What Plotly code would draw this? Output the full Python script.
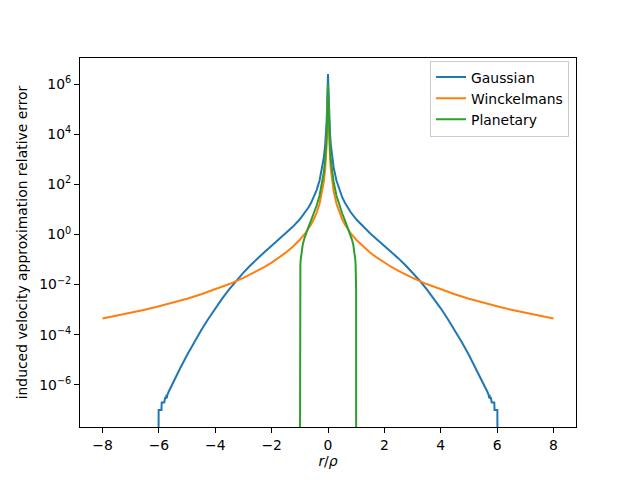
import plotly.graph_objects as go

# ---- data ----
x_ticks = [-8, -6, -4, -2, 0, 2, 4, 6, 8]
x_tick_labels = ["\u22128", "\u22126", "\u22124", "\u22122", "0", "2", "4", "6", "8"]
y_ticks = [1e-6, 1e-4, 1e-2, 1e0, 1e2, 1e4, 1e6]
y_tick_labels = ["10<sup>\u22126</sup>", "10<sup>\u22124</sup>", "10<sup>\u22122</sup>",
                 "10<sup>0</sup>", "10<sup>2</sup>", "10<sup>4</sup>", "10<sup>6</sup>"]

ZERO = 1e-12  # stands for an exact zero (drawn below the visible axis range)

gauss_x = [-6.02, -6.01, -5.91, -5.9, -5.81, -5.8, -5.79, -5.78, -5.75, -5.73, -5.72, -5.7,
           -5.65, -5.6, -5.5, -5.25, -5.0, -4.75, -4.5, -4.25, -4.0, -3.75, -3.5, -3.25,
           -3.0, -2.75, -2.5, -2.25, -2.0, -1.75, -1.5, -1.25, -1.0, -0.8, -0.7, -0.6,
           -0.5, -0.4, -0.3, -0.2, -0.15, -0.1, -0.075, -0.05, -0.03, -0.02,
           0.0,
           0.02, 0.03, 0.05, 0.075, 0.1, 0.15, 0.2, 0.3, 0.4, 0.5, 0.6, 0.7, 0.8, 1.0,
           1.25, 1.5, 1.75, 2.0, 2.25, 2.5, 2.75, 3.0, 3.25, 3.5, 3.75, 4.0, 4.25, 4.5,
           4.75, 5.0, 5.25, 5.5, 5.6, 5.65, 5.7, 5.72, 5.73, 5.75, 5.78, 5.79, 5.8, 5.81,
           5.9, 5.91, 6.01, 6.02]
gauss_err = [ZERO, 1.0e-7, 1.0e-7, 2.0e-7, 2.0e-7, 3.0e-7, 2.0e-7, 3.0e-7, 3.0e-7, 4.0e-7, 3.0e-7, 4.0e-7,
             5.43e-7, 7.13e-7, 1.223e-6, 4.487e-6, 1.544e-5, 4.981e-5, 1.506e-4, 4.272e-4, 1.135e-3,
             2.829e-3, 6.617e-3, 1.455e-2, 3.017e-2, 5.928e-2, 0.1112, 0.2009, 0.3540, 0.6184,
             1.093, 2.011, 4.031, 7.867, 11.67, 18.37, 31.41, 60.62, 142.1, 474.7, 1121.0,
             3770.0, 8927.0, 3.010e4, 1.393e5, 4.70e5,
             2.5e6,
             4.70e5, 1.393e5, 3.010e4, 8927.0, 3770.0, 1121.0, 474.7, 142.1, 60.62, 31.41,
             18.37, 11.67, 7.867, 4.031, 2.011, 1.093, 0.6184, 0.3540, 0.2009, 0.1112,
             5.928e-2, 3.017e-2, 1.455e-2, 6.617e-3, 2.829e-3, 1.135e-3, 4.272e-4, 1.506e-4,
             4.981e-5, 1.544e-5, 4.487e-6, 1.223e-6, 7.13e-7, 5.43e-7, 4.0e-7, 3.0e-7, 4.0e-7,
             3.0e-7, 3.0e-7, 2.0e-7, 3.0e-7, 2.0e-7, 2.0e-7, 1.0e-7, 1.0e-7, ZERO]

winck_x = [-8.0, -7.5, -7.0, -6.5, -6.0, -5.5, -5.0, -4.5, -4.0, -3.5, -3.0, -2.75, -2.5,
           -2.25, -2.0, -1.75, -1.5, -1.25, -1.0, -0.8, -0.7, -0.6, -0.5, -0.4, -0.3, -0.2,
           -0.15, -0.1, -0.075, -0.05, -0.03, -0.02,
           0.0,
           0.02, 0.03, 0.05, 0.075, 0.1, 0.15, 0.2, 0.3, 0.4, 0.5, 0.6, 0.7, 0.8, 1.0, 1.25,
           1.5, 1.75, 2.0, 2.25, 2.5, 2.75, 3.0, 3.5, 4.0, 4.5, 5.0, 5.5, 6.0, 6.5, 7.0, 7.5, 8.0]
winck_err = [4.417e-4, 5.692e-4, 7.455e-4, 9.956e-4, 1.359e-3, 1.903e-3, 2.745e-3, 4.118e-3,
             6.400e-3, 1.052e-2, 1.845e-2, 2.517e-2, 3.518e-2, 5.055e-2, 7.503e-2, 0.1158,
             0.1878, 0.3248, 0.6162, 1.143, 1.642, 2.492, 4.082, 7.513, 16.74, 53.28, 123.2,
             407.4, 958.4, 3216.0, 1.484e4, 5.004e4,
             4.0e5,
             5.004e4, 1.484e4, 3216.0, 958.4, 407.4, 123.2, 53.28, 16.74, 7.513, 4.082, 2.492,
             1.642, 1.143, 0.6162, 0.3248, 0.1878, 0.1158, 7.503e-2, 5.055e-2, 3.518e-2,
             2.517e-2, 1.845e-2, 1.052e-2, 6.400e-3, 4.118e-3, 2.745e-3, 1.903e-3, 1.359e-3,
             9.956e-4, 7.455e-4, 5.692e-4, 4.417e-4]

plan_x = [-1.0, -0.998, -0.995, -0.99, -0.98, -0.97, -0.95, -0.9, -0.85, -0.8, -0.7, -0.6,
          -0.5, -0.4, -0.3, -0.2, -0.15, -0.1, -0.075, -0.05, -0.03, -0.02,
          0.0,
          0.02, 0.03, 0.05, 0.075, 0.1, 0.15, 0.2, 0.3, 0.4, 0.5, 0.6, 0.7, 0.8, 0.85, 0.9,
          0.95, 0.97, 0.98, 0.99, 0.995, 0.998, 1.0]
plan_err = [ZERO, 6.027e-3, 1.519e-2, 3.061e-2, 6.247e-2, 9.574e-2, 0.1664, 0.3717, 0.6283,
            0.9531, 1.915, 3.630, 7.0, 14.63, 36.04, 124.0, 295.3, 999.0, 2369.0, 7999.0,
            3.704e4, 1.25e5,
            1.06e6,
            1.25e5, 3.704e4, 7999.0, 2369.0, 999.0, 295.3, 124.0, 36.04, 14.63, 7.0, 3.630,
            1.915, 0.9531, 0.6283, 0.3717, 0.1664, 9.574e-2, 6.247e-2, 3.061e-2, 1.519e-2,
            6.027e-3, ZERO]

names = ["Gaussian", "Winckelmans", "Planetary"]
colors = ["#1f77b4", "#ff7f0e", "#2ca02c"]

FONT = "DejaVu Sans"
FS = 13.9

fig = go.Figure()
for name, xs, ys, c in zip(names, [gauss_x, winck_x, plan_x],
                           [gauss_err, winck_err, plan_err], colors):
    fig.add_trace(go.Scatter(x=xs, y=ys, mode="lines", name=name,
                             line=dict(color=c, width=2)))

fig.update_layout(
    width=640, height=480,
    margin=dict(l=80, r=64, t=58, b=53),
    paper_bgcolor="white", plot_bgcolor="white",
    font=dict(family=FONT, size=FS, color="black"),
    showlegend=True,
    legend=dict(x=0.986, y=0.993, xanchor="right", yanchor="top",
                bgcolor="rgba(255,255,255,0.8)", bordercolor="#cccccc", borderwidth=1,
                font=dict(family=FONT, size=FS)),
)
fig.update_xaxes(
    range=[-8.8, 8.8], tickvals=x_ticks, ticktext=x_tick_labels,
    showline=True, mirror=True, linecolor="black", linewidth=1,
    ticks="outside", ticklen=5, tickwidth=1, tickcolor="black",
    showgrid=False, zeroline=False,
    title=dict(text="<i>r</i>/<i>\u03c1</i>", standoff=4, font=dict(family=FONT, size=FS)),
)
fig.update_yaxes(
    type="log", range=[-7.68, 7.04], tickvals=y_ticks, ticktext=y_tick_labels,
    showline=True, mirror=True, linecolor="black", linewidth=1,
    ticks="outside", ticklen=5, tickwidth=1, tickcolor="black",
    showgrid=False, zeroline=False,
    title=dict(text="induced velocity approximation relative error", standoff=8,
               font=dict(family=FONT, size=FS)),
)

fig.write_html("out.html")
